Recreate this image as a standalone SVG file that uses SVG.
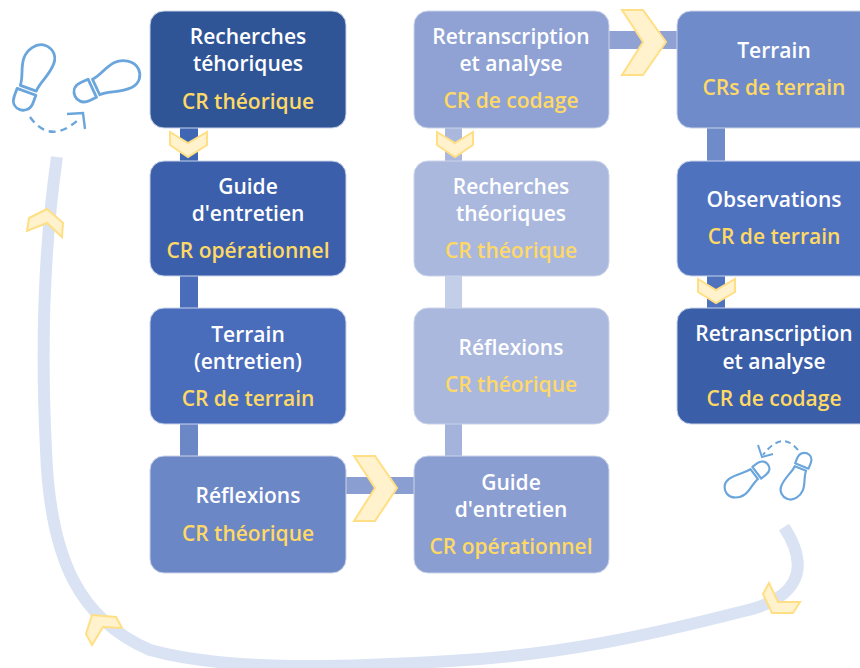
<svg xmlns="http://www.w3.org/2000/svg" xmlns:xlink="http://www.w3.org/1999/xlink" width="860" height="668" viewBox="0 0 860 668">
<style>
text{font-family:"Open Sans","Liberation Sans",sans-serif;font-weight:600;font-size:21px;text-anchor:middle}
.t{fill:#fff}
.c{fill:#ffd966}
.n{stroke:#c9d3ea;stroke-width:1}
.chev{fill:#fff2cc;stroke:#ffdf85;stroke-width:2;stroke-linejoin:miter}
.shoe{fill:none;stroke:#6aa5dc;stroke-width:2.8;stroke-linejoin:round}
.dash{fill:none;stroke:#6aa5dc;stroke-width:2.4;stroke-dasharray:7 5}
.arrow{fill:none;stroke:#6aa5dc;stroke-width:2.4}
</style>
<defs>
<g id="shoe"><path d="M-8,-1 L9,-1 C9,-10 16,-20 16,-33 C16,-42 9,-47 2,-47 C-8,-47 -14,-36 -14,-28 C-14,-18 -8,-10 -8,-1Z"/><path d="M-10,3 L10,3 L10,11 C10,19 4,22 0,22 C-5,22 -10,19 -10,11Z"/></g>
</defs>
<g id="connectors">
<path d="M57,157 C45,240 40,330 46,450 C50,560 80,620 150,650 C230,672 350,667 450,661 C560,655 650,635 740,612 C797,600 812,570 784,527" fill="none" stroke="#dae3f3" stroke-width="12"/>
<rect x="180" y="128" width="18" height="33" fill="#3f66b3"/>
<rect x="180" y="276" width="18" height="32" fill="#4a6dbb"/>
<rect x="180" y="424" width="18" height="32" fill="#6c87c6"/>
<rect x="346" y="477" width="68" height="17" fill="#8a9ed1"/>
<rect x="445" y="424" width="17" height="32" fill="#a3b3db"/>
<rect x="445" y="276" width="17" height="32" fill="#c3cee8"/>
<rect x="445" y="128" width="17" height="33" fill="#aab8de"/>
<rect x="609" y="31" width="68" height="18" fill="#8fa2d3"/>
<rect x="707" y="128" width="18" height="33" fill="#6f8bca"/>
<rect x="707" y="276" width="18" height="32" fill="#4f72bf"/>
<polygon class="chev" points="170,132 188,143 207,132 207,145 188,157 170,145"/>
<polygon class="chev" points="437,132 455,143 473,132 473,145 455,157 437,145"/>
<polygon class="chev" points="698,279 716,290 735,279 735,292 716,303 698,292"/>
<polygon class="chev" points="354,456 375,456 397,488 375,521 354,521 375,488"/>
<polygon class="chev" points="622,10 643,10 666,42 643,75 622,75 643,42"/>
<polygon class="chev" points="27,231 29,218 47,209 63,223 62,237 47,223"/>
<polygon class="chev" points="92,615 116,617 122,628 103,627 92,645 86,634"/>
<polygon class="chev" points="769,583 778,602 800,602 793,613 772,613 763,594"/>
</g>
<g id="n1"><rect class="n" x="150" y="11" width="196" height="117" rx="14" fill="#2f5597"/><text class="t" x="248" y="44">Recherches</text><text class="t" x="248" y="71">téhoriques</text><text class="c" x="248" y="109">CR théorique</text></g>
<g id="n2"><rect class="n" x="150" y="161" width="196" height="115" rx="14" fill="#3b5fab"/><text class="t" x="248" y="194">Guide</text><text class="t" x="248" y="221">d'entretien</text><text class="c" x="248" y="258">CR opérationnel</text></g>
<g id="n3"><rect class="n" x="150" y="308" width="196" height="116" rx="14" fill="#4a6dbb"/><text class="t" x="248" y="342">Terrain</text><text class="t" x="248" y="369">(entretien)</text><text class="c" x="248" y="406">CR de terrain</text></g>
<g id="n4"><rect class="n" x="150" y="456" width="196" height="117" rx="14" fill="#6c87c6"/><text class="t" x="248" y="503">Réflexions</text><text class="c" x="248" y="541">CR théorique</text></g>
<g id="n5"><rect class="n" x="414" y="456" width="195" height="117" rx="14" fill="#8a9ed1"/><text class="t" x="511" y="490">Guide</text><text class="t" x="511" y="517">d'entretien</text><text class="c" x="511" y="554">CR opérationnel</text></g>
<g id="n6"><rect class="n" x="414" y="308" width="195" height="116" rx="14" fill="#aab8de"/><text class="t" x="511" y="355">Réflexions</text><text class="c" x="511" y="392">CR théorique</text></g>
<g id="n7"><rect class="n" x="414" y="161" width="195" height="115" rx="14" fill="#aab8de"/><text class="t" x="511" y="194">Recherches</text><text class="t" x="511" y="221">théoriques</text><text class="c" x="511" y="258">CR théorique</text></g>
<g id="n8"><rect class="n" x="414" y="11" width="195" height="117" rx="14" fill="#8fa2d3"/><text class="t" x="511" y="44">Retranscription</text><text class="t" x="511" y="71">et analyse</text><text class="c" x="511" y="108">CR de codage</text></g>
<g id="n9"><rect class="n" x="677" y="11" width="200" height="117" rx="14" fill="#6f8bca"/><text class="t" x="774" y="58">Terrain</text><text class="c" x="774" y="95">CRs de terrain</text></g>
<g id="n10"><rect class="n" x="677" y="161" width="200" height="115" rx="14" fill="#4f72bf"/><text class="t" x="774" y="207">Observations</text><text class="c" x="774" y="244">CR de terrain</text></g>
<g id="n11"><rect class="n" x="677" y="308" width="200" height="116" rx="14" fill="#3a5ea8"/><text class="t" x="774" y="341">Retranscription</text><text class="t" x="774" y="369">et analyse</text><text class="c" x="774" y="406">CR de codage</text></g>
<g id="steps-top">
<use class="shoe" xlink:href="#shoe" href="#shoe" transform="translate(27.5,89) rotate(20)"/>
<use class="shoe" xlink:href="#shoe" href="#shoe" transform="translate(95,87) rotate(65)"/>
<path class="dash" d="M30,117 Q50,145 78,120"/>
<path class="arrow" d="M67,114 L83,113 L85,129"/>
</g>
<g id="steps-bottom">
<use class="shoe" style="stroke-width:3" xlink:href="#shoe" href="#shoe" transform="translate(755,474) rotate(-127) scale(.73)"/>
<use class="shoe" style="stroke-width:3" xlink:href="#shoe" href="#shoe" transform="translate(801,468) rotate(-158) scale(.72)"/>
<path class="dash" style="stroke-width:2;stroke-dasharray:6 4" d="M798,450 Q782,430 763,455"/>
<path class="arrow" style="stroke-width:2" d="M758,445 L762,457 L773,454"/>
</g>
</svg>
